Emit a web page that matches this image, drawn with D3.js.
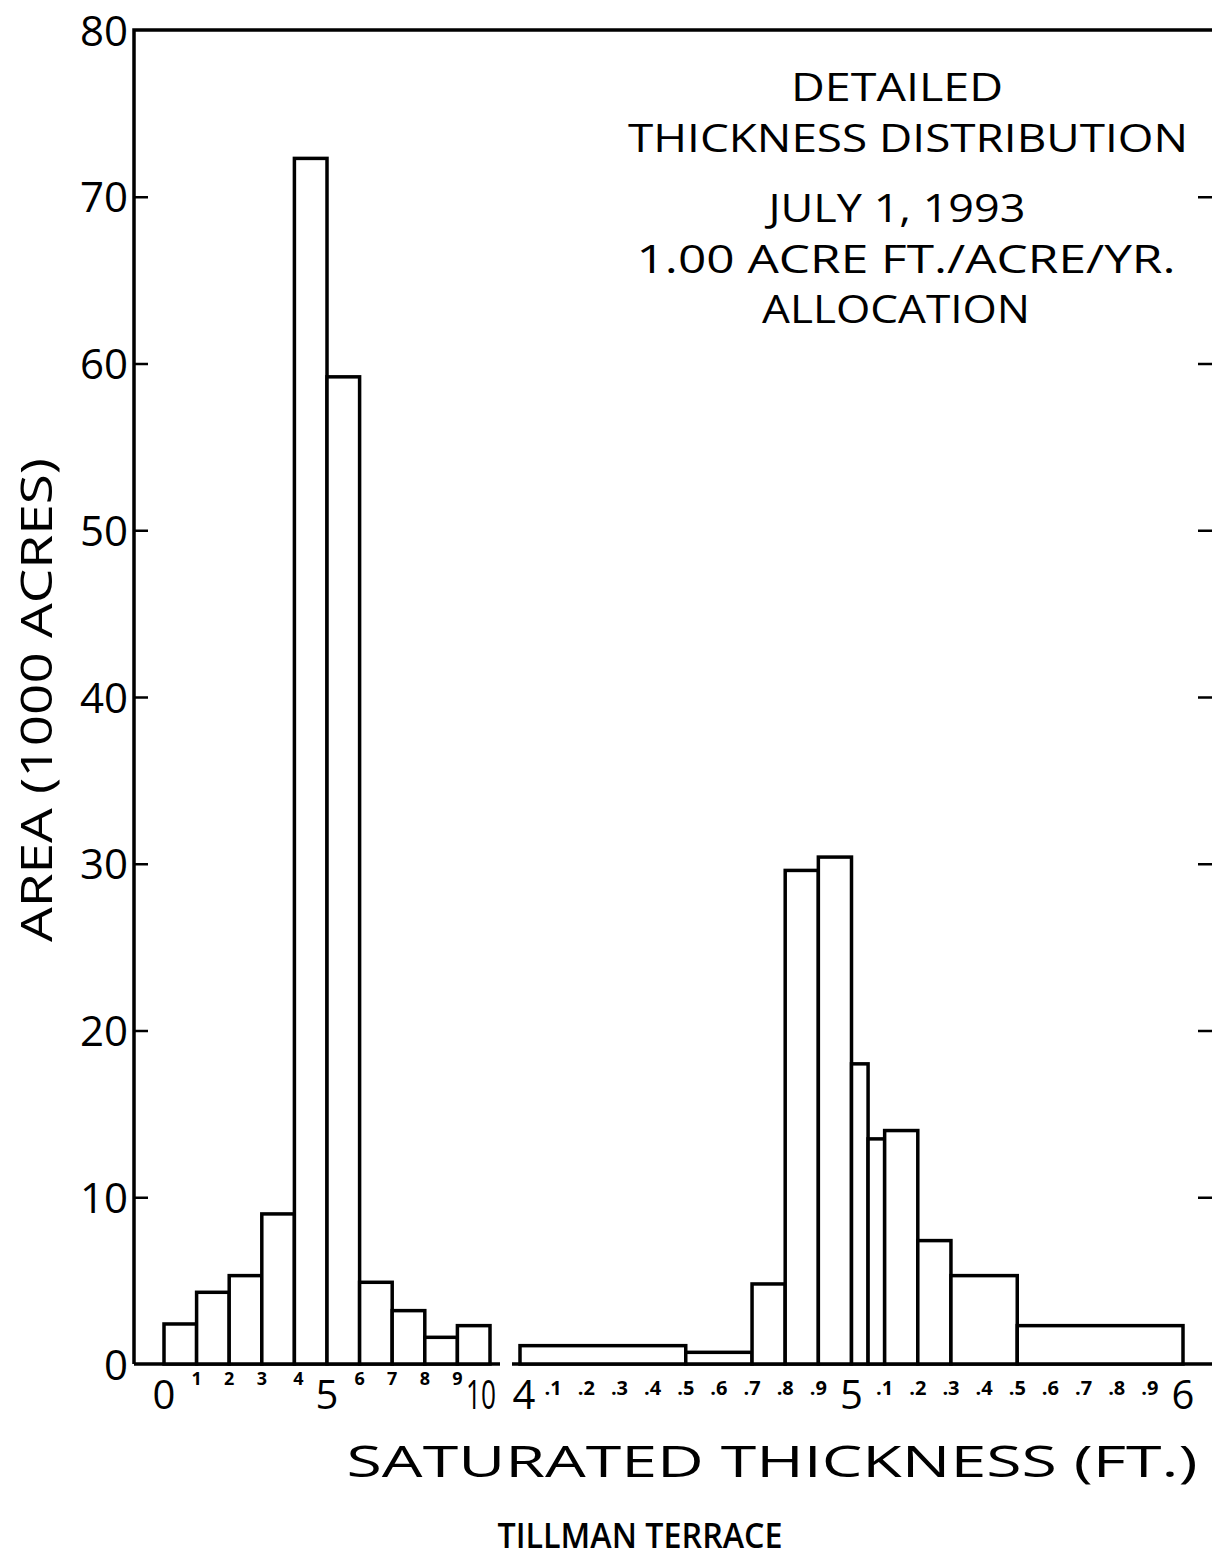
<!DOCTYPE html>
<html>
<head>
<meta charset="utf-8">
<script src="https://cdn.jsdelivr.net/npm/d3@7"></script>
<style>
  body { margin: 0; background: #fff; }
  text { font-family: "Open Sans", "DejaVu Sans", sans-serif; fill: #000; }
</style>
</head>
<body>
<svg id="chart"></svg>
<script>
var W = 1212, H = 1560;

// left histogram: 1 ft bins from 0 to 10
var leftEdges  = [0, 1, 2, 3, 4, 5, 6, 7, 8, 9, 10];
var leftValues = [2.4, 4.3, 5.3, 9.0, 72.3, 59.2, 4.9, 3.2, 1.6, 2.3];
var leftTicks  = [0, 1, 2, 3, 4, 5, 6, 7, 8, 9, 10];
var leftTickLabels = ["0", "1", "2", "3", "4", "5", "6", "7", "8", "9", "10"];
var leftBig = [0, 5, 10];

// right histogram: detailed 4 - 6 ft
var rightEdges  = [4.0, 4.5, 4.7, 4.8, 4.9, 5.0, 5.05, 5.1, 5.2, 5.3, 5.5, 6.0];
var rightValues = [1.1, 0.7, 4.8, 29.6, 30.4, 18.0, 13.5, 14.0, 7.4, 5.3, 2.3];
var rightTicks  = [4.0, 4.1, 4.2, 4.3, 4.4, 4.5, 4.6, 4.7, 4.8, 4.9, 5.0,
                   5.1, 5.2, 5.3, 5.4, 5.5, 5.6, 5.7, 5.8, 5.9, 6.0];
var rightTickLabels = ["4", ".1", ".2", ".3", ".4", ".5", ".6", ".7", ".8", ".9", "5",
                       ".1", ".2", ".3", ".4", ".5", ".6", ".7", ".8", ".9", "6"];
var rightBig = [4, 5, 6];

var yTicks = [0, 10, 20, 30, 40, 50, 60, 70, 80];
var titleLines = ["DETAILED", "THICKNESS DISTRIBUTION", "JULY 1, 1993",
                  "1.00 ACRE FT./ACRE/YR.", "ALLOCATION"];

var plotLeft = 134, plotTop = 30, base = 1364, plotRight = 1213;

var y = d3.scaleLinear().domain([0, 80]).range([base, plotTop]);
var xL = d3.scaleLinear().domain([0, 10]).range([164, 490]);
var xR = d3.scaleLinear().domain([4, 6]).range([520, 1183]);

var svg = d3.select("#chart").attr("width", W).attr("height", H);

// frame
svg.append("path")
  .attr("d", "M" + plotLeft + "," + base + "V" + plotTop + "H" + W)
  .attr("fill", "none").attr("stroke", "#000").attr("stroke-width", 3.5);
svg.append("line")
  .attr("x1", plotLeft).attr("x2", 500).attr("y1", base).attr("y2", base)
  .attr("stroke", "#000").attr("stroke-width", 3.5);
svg.append("line")
  .attr("x1", 512).attr("x2", W).attr("y1", base).attr("y2", base)
  .attr("stroke", "#000").attr("stroke-width", 3.5);

// left axis, ticks pointing in
var yAxis = svg.append("g")
  .attr("transform", "translate(" + plotLeft + ",0)")
  .call(d3.axisLeft(y).tickValues(yTicks).tickSizeInner(-14).tickSizeOuter(0).tickPadding(6));
yAxis.select(".domain").remove();
yAxis.selectAll("line").attr("stroke-width", 2.5)
  .filter(function(d) { return d === 0 || d === 80; }).remove();
yAxis.selectAll("text")
  .style("font-size", "42px")
  .style("font-family", "'Open Sans', sans-serif")
  .attr("dy", "0.36em");

// right axis ticks only
var yAxisR = svg.append("g")
  .attr("transform", "translate(" + plotRight + ",0)")
  .call(d3.axisLeft(y).tickValues(yTicks.slice(1, 8)).tickSize(15).tickFormat(""));
yAxisR.select(".domain").remove();
yAxisR.selectAll("line").attr("stroke-width", 2.5);

function histogram(edges, values, x) {
  var bins = values.map(function(v, i) { return { x0: edges[i], x1: edges[i + 1], v: v }; });
  svg.append("g").selectAll("rect")
    .data(bins)
    .join("rect")
      .attr("x", function(d) { return x(d.x0); })
      .attr("y", function(d) { return y(d.v); })
      .attr("width", function(d) { return x(d.x1) - x(d.x0); })
      .attr("height", function(d) { return base - y(d.v); })
      .attr("fill", "#fff")
      .attr("stroke", "#000")
      .attr("stroke-width", 3.5);
}
histogram(leftEdges, leftValues, xL);
histogram(rightEdges, rightValues, xR);

function tickLabels(ticks, labels, big, x, smallSize, smallBase) {
  function isBig(d) { return big.indexOf(d) >= 0; }
  var t = svg.append("g").selectAll("text")
    .data(ticks)
    .join("text")
      .attr("x", function(d, i) {
        if (labels[i] === "10") return x(d) - 9;
        if (labels[i] === "4") return x(d) + 4;
        return x(d);
      })
      .attr("y", function(d) { return isBig(d) ? 1409 : smallBase; })
      .attr("text-anchor", "middle")
      .style("font-size", function(d) { return isBig(d) ? "40px" : smallSize; })
      .style("font-weight", function(d) { return isBig(d) ? "400" : "700"; })
      .text(function(d, i) { return labels[i]; });
  t.filter(function(d, i) { return labels[i] === "10"; })
    .attr("textLength", 30).attr("lengthAdjust", "spacingAndGlyphs");
}
tickLabels(leftTicks, leftTickLabels, leftBig, xL, "18px", 1385);
tickLabels(rightTicks, rightTickLabels, rightBig, xR, "20px", 1395);

// title block
var titleY = [101, 152, 222, 273, 323];
var titleW = [212, 560, 257, 539, 268];
var titleX = [897, 908, 897, 906, 896];
svg.append("g").selectAll("text")
  .data(titleLines)
  .join("text")
    .attr("x", function(d, i) { return titleX[i]; })
    .attr("y", function(d, i) { return titleY[i]; })
    .attr("text-anchor", "middle")
    .attr("textLength", function(d, i) { return titleW[i]; })
    .attr("lengthAdjust", "spacingAndGlyphs")
    .style("font-size", "39px")
    .text(function(d) { return d; });

// axis titles
svg.append("text")
  .attr("transform", "translate(52,700) rotate(-90)")
  .attr("text-anchor", "middle")
  .attr("textLength", 484)
  .attr("lengthAdjust", "spacingAndGlyphs")
  .style("font-size", "44px")
  .text("AREA (1000 ACRES)");

svg.append("text")
  .attr("x", 772).attr("y", 1477)
  .attr("text-anchor", "middle")
  .attr("textLength", 851)
  .attr("lengthAdjust", "spacingAndGlyphs")
  .style("font-size", "44px")
  .text("SATURATED THICKNESS (FT.)");

svg.append("text")
  .attr("x", 640).attr("y", 1548)
  .attr("text-anchor", "middle")
  .attr("textLength", 285)
  .attr("lengthAdjust", "spacingAndGlyphs")
  .style("font-size", "34px")
  .style("font-weight", "600")
  .text("TILLMAN  TERRACE");
</script>
</body>
</html>
